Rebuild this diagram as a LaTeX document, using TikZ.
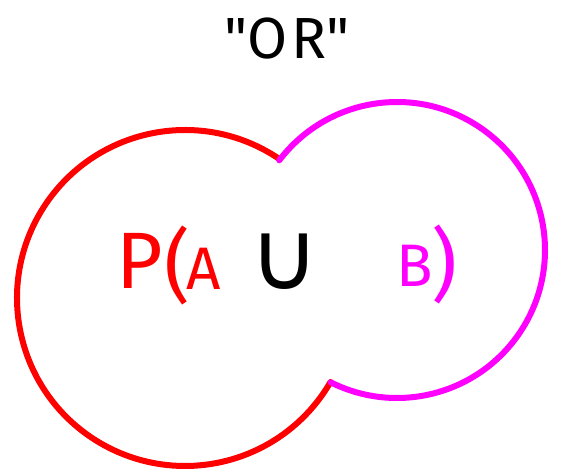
\documentclass[tikz,border=0pt]{standalone}
\usepackage{fontspec}
\setmainfont{Fira Sans}
\newfontfamily\symfont{DejaVu Sans}
\definecolor{setred}{RGB}{255,0,0}
\definecolor{setpink}{RGB}{255,0,255}

\begin{document}
\begin{tikzpicture}[x=1pt, y=1pt,
    setarc/.style={line width=6pt, line cap=round},
    big/.style={inner sep=0pt, font=\fontsize{80}{80}\selectfont},
    mid/.style={inner sep=0pt, font=\fontsize{60}{60}\selectfont}]
    \useasboundingbox (0,0) rectangle (565,475);

    % Centres of the two sets
    \coordinate (redC) at (185,177);
    \coordinate (pinkC) at (397,225);

    % Set A
    \draw[setarc, setred] (redC) ++(55.7:168) arc[start angle=55.7, end angle=330, radius=168];

    % Set B
    \draw[setarc, setpink] (pinkC) ++(142.7:148) arc[start angle=142.7, end angle=-116.6, radius=148];

    % Title
    \node[inner sep=0pt, font=\fontsize{58}{58}\selectfont] (title) at (287,436) {\textquotedbl O\kern4pt R\textquotedbl};

    % Formula
    \node[big, setred] (pee) at (140,214) {P};
    \node[big, setred] (lpar) at (177,210) {(};
    \node[mid, setred] (setA) at (204,206) {A};
    \node[inner sep=0pt, font=\symfont\fontsize{96}{96}\selectfont] (cup) at (285,213) {∪};
    \node[mid, setpink] (setB) at (415,209) {B};
    \node[big, setpink] (rpar) at (444,211) {)};
\end{tikzpicture}
\end{document}
